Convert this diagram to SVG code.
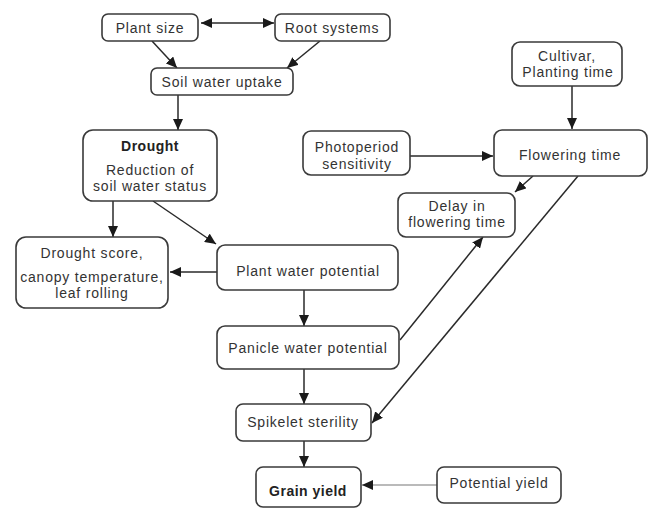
<svg xmlns="http://www.w3.org/2000/svg" width="649" height="509" viewBox="0 0 649 509">
<style>
.box{fill:#fff;stroke:#3a3a3a;stroke-width:1.6}
.t{font-family:"Liberation Sans",Arial,sans-serif;font-size:14px;letter-spacing:0.8px;fill:#333;text-anchor:middle}
.b{font-weight:bold;fill:#222;letter-spacing:0.5px}
.c{stroke:#2a2a2a;stroke-width:1.5;fill:none;marker-end:url(#ah)}
</style>
<defs>
<marker id="ah" markerUnits="userSpaceOnUse" markerWidth="12" markerHeight="10" refX="11" refY="5" orient="auto-start-reverse">
<path d="M0,0 L11,5 L0,10 z" fill="#1a1a1a"/>
</marker>
</defs>
<rect width="649" height="509" fill="#fff"/>
<g id="connectors">
<path class="c" d="M201,23 H274" marker-start="url(#ah)"/>
<path class="c" d="M152,41 L177,68"/>
<path class="c" d="M320,41 L287,68"/>
<path class="c" d="M178,95 V130"/>
<path class="c" d="M113,201 V237"/>
<path class="c" d="M153,201 L216,244"/>
<path class="c" d="M217,272 H170"/>
<path class="c" d="M304,290 V326"/>
<path class="c" d="M304,369 V404"/>
<path class="c" d="M304,441 V467"/>
<path class="c" d="M437,485 H362" style="stroke:#777;stroke-width:1.2"/>
<path class="c" d="M572,86 V129"/>
<path class="c" d="M410,156 H493"/>
<path class="c" d="M533,176 L515,192"/>
<path class="c" d="M400,340 L483,237"/>
<path class="c" d="M578,176 L372,423"/>
</g>
<g id="plant-size"><rect class="box" x="102" y="14" width="96" height="27" rx="6"/><text class="t" x="150" y="33">Plant size</text></g>
<g id="root-systems"><rect class="box" x="275" y="14" width="115" height="27" rx="6"/><text class="t" x="332" y="33">Root systems</text></g>
<g id="soil-water-uptake"><rect class="box" x="151" y="68" width="142" height="27" rx="6"/><text class="t" x="222" y="87">Soil water uptake</text></g>
<g id="drought"><rect class="box" x="83" y="130" width="134" height="71" rx="10"/><text class="t b" x="150" y="151">Drought</text><text class="t" x="150" y="175">Reduction of</text><text class="t" x="150" y="191">soil water status</text></g>
<g id="drought-score"><rect class="box" x="16" y="237" width="152" height="71" rx="10"/><text class="t" x="92" y="258">Drought score,</text><text class="t" x="92" y="282">canopy temperature,</text><text class="t" x="92" y="298">leaf rolling</text></g>
<g id="plant-water-potential"><rect class="box" x="217" y="245" width="181" height="45" rx="8"/><text class="t" x="308" y="276">Plant water potential</text></g>
<g id="panicle-water-potential"><rect class="box" x="217" y="326" width="182" height="43" rx="8"/><text class="t" x="308" y="353">Panicle water potential</text></g>
<g id="spikelet-sterility"><rect class="box" x="236" y="404" width="135" height="37" rx="7"/><text class="t" x="303" y="427">Spikelet sterility</text></g>
<g id="grain-yield"><rect class="box" x="256" y="467" width="105" height="40" rx="7"/><text class="t b" x="308" y="496">Grain yield</text></g>
<g id="potential-yield"><rect class="box" x="437" y="467" width="124" height="36" rx="7"/><text class="t" x="499" y="488">Potential yield</text></g>
<g id="cultivar"><rect class="box" x="512" y="42" width="110" height="44" rx="8"/><text class="t" x="567" y="61">Cultivar,</text><text class="t" x="568" y="77">Planting time</text></g>
<g id="flowering-time"><rect class="box" x="494" y="130" width="153" height="46" rx="8"/><text class="t" x="570" y="160">Flowering time</text></g>
<g id="photoperiod"><rect class="box" x="303" y="131" width="107" height="44" rx="8"/><text class="t" x="357" y="152">Photoperiod</text><text class="t" x="357" y="169">sensitivity</text></g>
<g id="delay"><rect class="box" x="398" y="193" width="117" height="44" rx="8"/><text class="t" x="457" y="211">Delay in</text><text class="t" x="457" y="227">flowering time</text></g>
</svg>
